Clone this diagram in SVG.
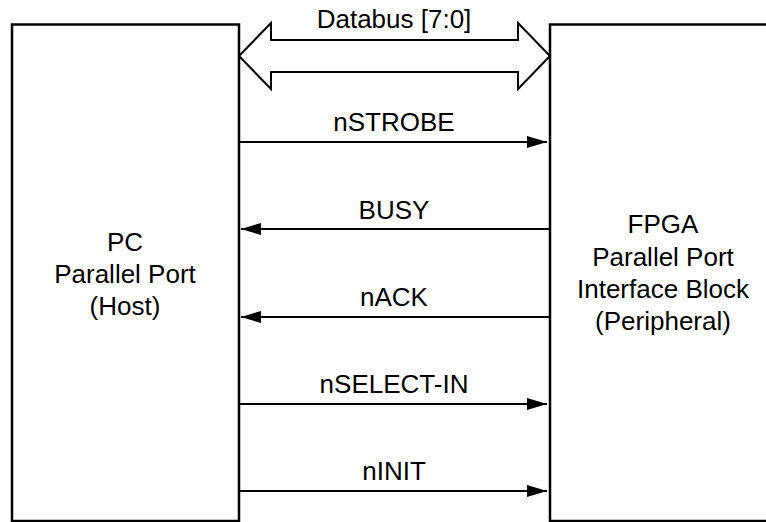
<svg xmlns="http://www.w3.org/2000/svg" width="766" height="522" viewBox="0 0 766 522">
  <style>
    .box { fill: #fff; stroke: #000; stroke-width: 2.5; }
    .lbl { font-family: "Liberation Sans", Arial, Helvetica, sans-serif; font-size: 26px; fill: #000; text-anchor: middle; }
    .sig { stroke: #000; stroke-width: 2; fill: none; }
    .bus { fill: #fff; stroke: #000; stroke-width: 2; stroke-linejoin: miter; }
  </style>
  <defs>
    <marker id="head" viewBox="0 0 20 12" refX="20" refY="6" markerWidth="20" markerHeight="12" markerUnits="userSpaceOnUse" orient="auto">
      <path d="M0,0 L20,6 L0,12 Z" fill="#000"/>
    </marker>
  </defs>
  <rect width="766" height="522" fill="#fff"/>

  <g id="host">
    <rect class="box" x="12" y="24.5" width="227" height="496.5"/>
    <text class="lbl" x="125" y="251">PC</text>
    <text class="lbl" x="125" y="283">Parallel Port</text>
    <text class="lbl" x="125" y="315">(Host)</text>
  </g>

  <g id="peripheral">
    <rect class="box" x="550" y="24.5" width="228" height="496.5"/>
    <text class="lbl" x="663" y="233">FPGA</text>
    <text class="lbl" x="663" y="266">Parallel Port</text>
    <text class="lbl" x="663" y="298">Interface Block</text>
    <text class="lbl" x="663" y="330">(Peripheral)</text>
  </g>

  <g id="connectors">
    <g id="databus">
      <polygon class="bus" points="239,56 271,23 271,40 518,40 518,23 550,56 518,89 518,72 271,72 271,89"/>
      <text class="lbl" x="394" y="28">Databus [7:0]</text>
    </g>
    <g id="nstrobe">
      <line class="sig" x1="239" y1="142" x2="547" y2="142" marker-end="url(#head)"/>
      <text class="lbl" x="394" y="131">nSTROBE</text>
    </g>
    <g id="busy">
      <line class="sig" x1="550" y1="229" x2="241" y2="229" marker-end="url(#head)"/>
      <text class="lbl" x="394" y="219">BUSY</text>
    </g>
    <g id="nack">
      <line class="sig" x1="550" y1="317" x2="241" y2="317" marker-end="url(#head)"/>
      <text class="lbl" x="394" y="306">nACK</text>
    </g>
    <g id="nselect-in">
      <line class="sig" x1="239" y1="404" x2="547" y2="404" marker-end="url(#head)"/>
      <text class="lbl" x="394" y="393">nSELECT-IN</text>
    </g>
    <g id="ninit">
      <line class="sig" x1="239" y1="491" x2="547" y2="491" marker-end="url(#head)"/>
      <text class="lbl" x="394" y="480">nINIT</text>
    </g>
  </g>
</svg>
